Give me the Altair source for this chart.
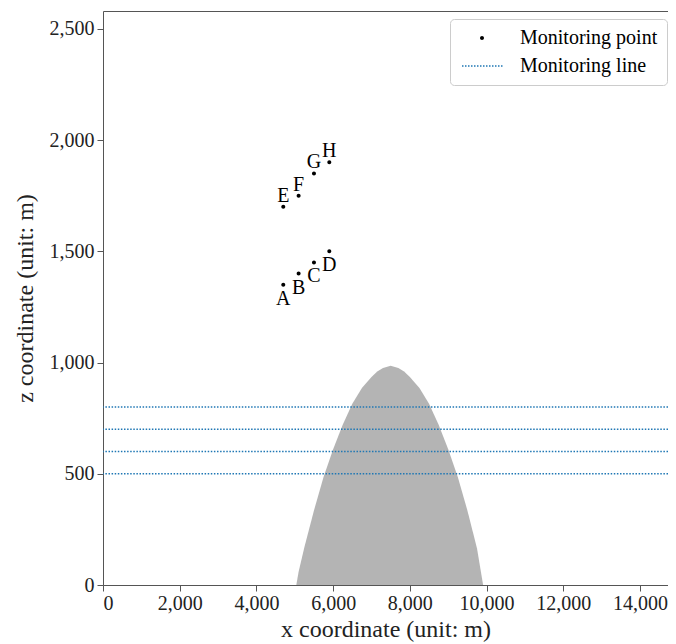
import altair as alt
import pandas as pd

# ---- data ----
hill_x = [5040, 5100, 5250, 5500, 5750, 6000, 6250, 6500, 6750, 7000, 7150, 7300,
          7500, 7700, 7850, 8000, 8250, 8500, 8750, 9000, 9250, 9500, 9750, 9910]
hill_z = [0, 60, 170, 335, 485, 610, 720, 815, 885, 935, 960, 975,
          985, 975, 960, 935, 885, 815, 720, 610, 485, 335, 165, 0]

point_names = ["A", "B", "C", "D", "E", "F", "G", "H"]
point_x = [4700, 5100, 5500, 5900, 4700, 5100, 5500, 5900]
point_z = [1350, 1400, 1450, 1500, 1700, 1750, 1850, 1900]
point_row = ["lower", "lower", "lower", "lower", "upper", "upper", "upper", "upper"]

line_z = [500, 600, 700, 800]

x_ticks = [0, 2000, 4000, 6000, 8000, 10000, 12000, 14000]
y_ticks = [0, 500, 1000, 1500, 2000, 2500]
x_domain = [0, 14730]
y_domain = [0, 2580]

legend_names = ["Monitoring point", "Monitoring line"]

# ---- tables ----
hill = pd.DataFrame({"x": hill_x, "z": hill_z})
pts = pd.DataFrame({"name": point_names, "x": point_x, "z": point_z, "row": point_row,
                    "kind": "Monitoring point"})
lines = pd.DataFrame({"z": line_z})

FONT = "Liberation Serif"
BLUE = "#1f77b4"

# legend symbol shapes (unit = sqrt(size)/2 px)
circle_path = "M-0.4,0A0.4,0.4,0,1,0,0.4,0A0.4,0.4,0,1,0,-0.4,0Z"
dotted_path = " ".join(
    f"M{-4 + 0.6 * i:.2f},-0.15h0.3v0.3h-0.3Z" for i in range(14)
)

xs = alt.Scale(domain=x_domain, nice=False, zero=False)
ys = alt.Scale(domain=y_domain, nice=False, zero=False)

legend = alt.Legend(title=None, orient="none", legendX=347, legendY=8,
                    symbolSize=100, symbolOffset=13, labelOffset=28,
                    symbolStrokeWidth=0,
                    labelFont=FONT, labelFontSize=20, labelColor="black",
                    strokeColor="#cccccc", fillColor="rgba(255,255,255,0.8)",
                    cornerRadius=4, padding=9, rowPadding=8)

area = alt.Chart(hill).mark_area(color="#b4b4b4", opacity=1).encode(
    x=alt.X("x:Q", scale=xs,
            axis=alt.Axis(values=x_ticks, format=",d", title="x coordinate (unit: m)",
                          orient="bottom", titlePadding=4, labelPadding=2)),
    y=alt.Y("z:Q", scale=ys,
            axis=alt.Axis(values=y_ticks, format=",d", title="z coordinate (unit: m)",
                          titlePadding=12, labelPadding=3)),
)

rules = alt.Chart(lines).mark_rule(color=BLUE, strokeWidth=1.5, strokeDash=[1.5, 1.6]).encode(
    y=alt.Y("z:Q", scale=ys),
)

points = alt.Chart(pts).mark_point(filled=True, size=100, opacity=1).encode(
    x=alt.X("x:Q", scale=xs, axis=None),
    y=alt.Y("z:Q", scale=ys),
    color=alt.Color("kind:N",
                    scale=alt.Scale(domain=legend_names, range=["black", BLUE]),
                    legend=legend),
    shape=alt.Shape("kind:N",
                    scale=alt.Scale(domain=legend_names, range=[circle_path, dotted_path]),
                    legend=legend),
)

lower_text = alt.Chart(pts).transform_filter(alt.datum.row == "lower").mark_text(
    font=FONT, fontSize=20, color="black", dy=14, baseline="middle", align="center"
).encode(
    x=alt.X("x:Q", scale=xs, axis=None),
    y=alt.Y("z:Q", scale=ys),
    text="name:N",
)

upper_text = alt.Chart(pts).transform_filter(alt.datum.row == "upper").mark_text(
    font=FONT, fontSize=20, color="black", dy=-11, baseline="middle", align="center"
).encode(
    x=alt.X("x:Q", scale=xs,
            axis=alt.Axis(orient="top", labels=False, ticks=False, title=None, domain=True)),
    y=alt.Y("z:Q", scale=ys),
    text="name:N",
)

chart = alt.layer(area, rules, points, lower_text, upper_text).resolve_axis(
    x="independent"
).properties(
    width=565, height=574,
    padding={"left": 95, "top": 3, "right": 0, "bottom": 57},
    autosize=alt.AutoSizeParams(type="none"),
).configure_axis(
    labelFont=FONT, titleFont=FONT, labelFontSize=20, titleFontSize=24,
    labelColor="#222222", titleColor="#222222", titleFontWeight="normal",
    domainColor="#555555", tickColor="#555555", tickSize=6, grid=False,
).configure_view(stroke=None)

chart.save("out.html", embed_options={"renderer": "svg", "actions": False})
